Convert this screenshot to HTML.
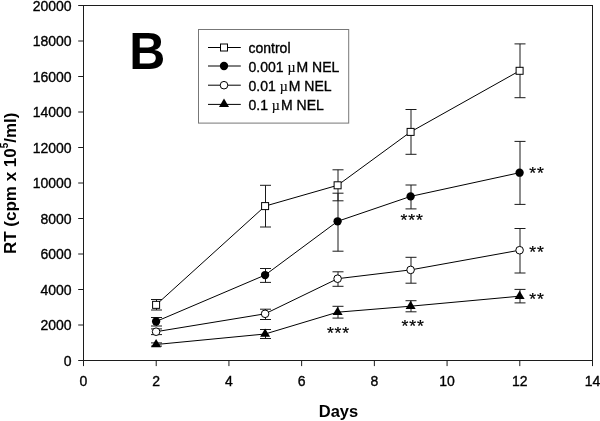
<!DOCTYPE html><html><head><meta charset="utf-8"><style>html,body{margin:0;padding:0;background:#fff;width:600px;height:421px;overflow:hidden}svg{display:block;will-change:transform}text{font-family:"Liberation Sans",sans-serif}</style></head><body>
<svg width="600" height="421" viewBox="0 0 600 421">
<rect x="83.5" y="5.5" width="509" height="355" fill="none" stroke="#1c1c1c" stroke-width="1"/>
<line x1="78.2" y1="360.50" x2="83.5" y2="360.50" stroke="#1c1c1c" stroke-width="1"/>
<text x="71.6" y="365.70" font-size="14" text-anchor="end" fill="#000" stroke="#000" stroke-width="0.35">0</text>
<line x1="78.2" y1="325.00" x2="83.5" y2="325.00" stroke="#1c1c1c" stroke-width="1"/>
<text x="71.6" y="330.20" font-size="14" text-anchor="end" fill="#000" stroke="#000" stroke-width="0.35">2000</text>
<line x1="78.2" y1="289.50" x2="83.5" y2="289.50" stroke="#1c1c1c" stroke-width="1"/>
<text x="71.6" y="294.70" font-size="14" text-anchor="end" fill="#000" stroke="#000" stroke-width="0.35">4000</text>
<line x1="78.2" y1="254.00" x2="83.5" y2="254.00" stroke="#1c1c1c" stroke-width="1"/>
<text x="71.6" y="259.20" font-size="14" text-anchor="end" fill="#000" stroke="#000" stroke-width="0.35">6000</text>
<line x1="78.2" y1="218.50" x2="83.5" y2="218.50" stroke="#1c1c1c" stroke-width="1"/>
<text x="71.6" y="223.70" font-size="14" text-anchor="end" fill="#000" stroke="#000" stroke-width="0.35">8000</text>
<line x1="78.2" y1="183.00" x2="83.5" y2="183.00" stroke="#1c1c1c" stroke-width="1"/>
<text x="71.6" y="188.20" font-size="14" text-anchor="end" fill="#000" stroke="#000" stroke-width="0.35">10000</text>
<line x1="78.2" y1="147.50" x2="83.5" y2="147.50" stroke="#1c1c1c" stroke-width="1"/>
<text x="71.6" y="152.70" font-size="14" text-anchor="end" fill="#000" stroke="#000" stroke-width="0.35">12000</text>
<line x1="78.2" y1="112.00" x2="83.5" y2="112.00" stroke="#1c1c1c" stroke-width="1"/>
<text x="71.6" y="117.20" font-size="14" text-anchor="end" fill="#000" stroke="#000" stroke-width="0.35">14000</text>
<line x1="78.2" y1="76.50" x2="83.5" y2="76.50" stroke="#1c1c1c" stroke-width="1"/>
<text x="71.6" y="81.70" font-size="14" text-anchor="end" fill="#000" stroke="#000" stroke-width="0.35">16000</text>
<line x1="78.2" y1="41.00" x2="83.5" y2="41.00" stroke="#1c1c1c" stroke-width="1"/>
<text x="71.6" y="46.20" font-size="14" text-anchor="end" fill="#000" stroke="#000" stroke-width="0.35">18000</text>
<line x1="78.2" y1="5.50" x2="83.5" y2="5.50" stroke="#1c1c1c" stroke-width="1"/>
<text x="71.6" y="10.70" font-size="14" text-anchor="end" fill="#000" stroke="#000" stroke-width="0.35">20000</text>
<line x1="83.50" y1="360.5" x2="83.50" y2="366.1" stroke="#1c1c1c" stroke-width="1"/>
<text x="83.50" y="385.9" font-size="14" text-anchor="middle" fill="#000" stroke="#000" stroke-width="0.35">0</text>
<line x1="156.21" y1="360.5" x2="156.21" y2="366.1" stroke="#1c1c1c" stroke-width="1"/>
<text x="156.21" y="385.9" font-size="14" text-anchor="middle" fill="#000" stroke="#000" stroke-width="0.35">2</text>
<line x1="228.93" y1="360.5" x2="228.93" y2="366.1" stroke="#1c1c1c" stroke-width="1"/>
<text x="228.93" y="385.9" font-size="14" text-anchor="middle" fill="#000" stroke="#000" stroke-width="0.35">4</text>
<line x1="301.64" y1="360.5" x2="301.64" y2="366.1" stroke="#1c1c1c" stroke-width="1"/>
<text x="301.64" y="385.9" font-size="14" text-anchor="middle" fill="#000" stroke="#000" stroke-width="0.35">6</text>
<line x1="374.36" y1="360.5" x2="374.36" y2="366.1" stroke="#1c1c1c" stroke-width="1"/>
<text x="374.36" y="385.9" font-size="14" text-anchor="middle" fill="#000" stroke="#000" stroke-width="0.35">8</text>
<line x1="447.07" y1="360.5" x2="447.07" y2="366.1" stroke="#1c1c1c" stroke-width="1"/>
<text x="447.07" y="385.9" font-size="14" text-anchor="middle" fill="#000" stroke="#000" stroke-width="0.35">10</text>
<line x1="519.79" y1="360.5" x2="519.79" y2="366.1" stroke="#1c1c1c" stroke-width="1"/>
<text x="519.79" y="385.9" font-size="14" text-anchor="middle" fill="#000" stroke="#000" stroke-width="0.35">12</text>
<line x1="592.50" y1="360.5" x2="592.50" y2="366.1" stroke="#1c1c1c" stroke-width="1"/>
<text x="592.50" y="385.9" font-size="14" text-anchor="middle" fill="#000" stroke="#000" stroke-width="0.35">14</text>
<text x="338.5" y="416.8" font-size="16.5" font-weight="bold" text-anchor="middle" fill="#000">Days</text>
<text transform="translate(16.3,183.3) rotate(-90)" font-size="17" font-weight="bold" text-anchor="middle" fill="#000">RT (cpm x 10<tspan font-size="10" dy="-8.8">5</tspan><tspan dy="8.8">/ml)</tspan></text>
<text transform="translate(129.2,69.2) scale(0.96,1)" font-size="52" font-weight="bold" fill="#000">B</text>
<line x1="156.50" y1="299.50" x2="156.50" y2="310.00" stroke="#1a1a1a" stroke-width="1"/>
<line x1="151.00" y1="299.50" x2="162.00" y2="299.50" stroke="#1a1a1a" stroke-width="1"/>
<line x1="151.00" y1="310.00" x2="162.00" y2="310.00" stroke="#1a1a1a" stroke-width="1"/>
<line x1="265.50" y1="185.30" x2="265.50" y2="227.00" stroke="#1a1a1a" stroke-width="1"/>
<line x1="260.00" y1="185.30" x2="271.00" y2="185.30" stroke="#1a1a1a" stroke-width="1"/>
<line x1="260.00" y1="227.00" x2="271.00" y2="227.00" stroke="#1a1a1a" stroke-width="1"/>
<line x1="338.00" y1="169.80" x2="338.00" y2="200.80" stroke="#1a1a1a" stroke-width="1"/>
<line x1="332.50" y1="169.80" x2="343.50" y2="169.80" stroke="#1a1a1a" stroke-width="1"/>
<line x1="332.50" y1="200.80" x2="343.50" y2="200.80" stroke="#1a1a1a" stroke-width="1"/>
<line x1="411.00" y1="109.50" x2="411.00" y2="154.30" stroke="#1a1a1a" stroke-width="1"/>
<line x1="405.50" y1="109.50" x2="416.50" y2="109.50" stroke="#1a1a1a" stroke-width="1"/>
<line x1="405.50" y1="154.30" x2="416.50" y2="154.30" stroke="#1a1a1a" stroke-width="1"/>
<line x1="520.00" y1="43.90" x2="520.00" y2="97.70" stroke="#1a1a1a" stroke-width="1"/>
<line x1="514.50" y1="43.90" x2="525.50" y2="43.90" stroke="#1a1a1a" stroke-width="1"/>
<line x1="514.50" y1="97.70" x2="525.50" y2="97.70" stroke="#1a1a1a" stroke-width="1"/>
<line x1="156.50" y1="317.50" x2="156.50" y2="326.00" stroke="#1a1a1a" stroke-width="1"/>
<line x1="151.00" y1="317.50" x2="162.00" y2="317.50" stroke="#1a1a1a" stroke-width="1"/>
<line x1="151.00" y1="326.00" x2="162.00" y2="326.00" stroke="#1a1a1a" stroke-width="1"/>
<line x1="265.50" y1="268.50" x2="265.50" y2="282.40" stroke="#1a1a1a" stroke-width="1"/>
<line x1="260.00" y1="268.50" x2="271.00" y2="268.50" stroke="#1a1a1a" stroke-width="1"/>
<line x1="260.00" y1="282.40" x2="271.00" y2="282.40" stroke="#1a1a1a" stroke-width="1"/>
<line x1="338.00" y1="193.20" x2="338.00" y2="251.20" stroke="#1a1a1a" stroke-width="1"/>
<line x1="332.50" y1="193.20" x2="343.50" y2="193.20" stroke="#1a1a1a" stroke-width="1"/>
<line x1="332.50" y1="251.20" x2="343.50" y2="251.20" stroke="#1a1a1a" stroke-width="1"/>
<line x1="411.00" y1="185.00" x2="411.00" y2="208.90" stroke="#1a1a1a" stroke-width="1"/>
<line x1="405.50" y1="185.00" x2="416.50" y2="185.00" stroke="#1a1a1a" stroke-width="1"/>
<line x1="405.50" y1="208.90" x2="416.50" y2="208.90" stroke="#1a1a1a" stroke-width="1"/>
<line x1="520.00" y1="141.40" x2="520.00" y2="204.40" stroke="#1a1a1a" stroke-width="1"/>
<line x1="514.50" y1="141.40" x2="525.50" y2="141.40" stroke="#1a1a1a" stroke-width="1"/>
<line x1="514.50" y1="204.40" x2="525.50" y2="204.40" stroke="#1a1a1a" stroke-width="1"/>
<line x1="156.50" y1="328.90" x2="156.50" y2="334.60" stroke="#1a1a1a" stroke-width="1"/>
<line x1="151.00" y1="328.90" x2="162.00" y2="328.90" stroke="#1a1a1a" stroke-width="1"/>
<line x1="151.00" y1="334.60" x2="162.00" y2="334.60" stroke="#1a1a1a" stroke-width="1"/>
<line x1="265.50" y1="309.20" x2="265.50" y2="319.50" stroke="#1a1a1a" stroke-width="1"/>
<line x1="260.00" y1="309.20" x2="271.00" y2="309.20" stroke="#1a1a1a" stroke-width="1"/>
<line x1="260.00" y1="319.50" x2="271.00" y2="319.50" stroke="#1a1a1a" stroke-width="1"/>
<line x1="338.00" y1="271.80" x2="338.00" y2="286.30" stroke="#1a1a1a" stroke-width="1"/>
<line x1="332.50" y1="271.80" x2="343.50" y2="271.80" stroke="#1a1a1a" stroke-width="1"/>
<line x1="332.50" y1="286.30" x2="343.50" y2="286.30" stroke="#1a1a1a" stroke-width="1"/>
<line x1="411.00" y1="257.30" x2="411.00" y2="283.20" stroke="#1a1a1a" stroke-width="1"/>
<line x1="405.50" y1="257.30" x2="416.50" y2="257.30" stroke="#1a1a1a" stroke-width="1"/>
<line x1="405.50" y1="283.20" x2="416.50" y2="283.20" stroke="#1a1a1a" stroke-width="1"/>
<line x1="520.00" y1="228.50" x2="520.00" y2="273.00" stroke="#1a1a1a" stroke-width="1"/>
<line x1="514.50" y1="228.50" x2="525.50" y2="228.50" stroke="#1a1a1a" stroke-width="1"/>
<line x1="514.50" y1="273.00" x2="525.50" y2="273.00" stroke="#1a1a1a" stroke-width="1"/>
<line x1="156.50" y1="342.90" x2="156.50" y2="346.10" stroke="#1a1a1a" stroke-width="1"/>
<line x1="151.00" y1="342.90" x2="162.00" y2="342.90" stroke="#1a1a1a" stroke-width="1"/>
<line x1="151.00" y1="346.10" x2="162.00" y2="346.10" stroke="#1a1a1a" stroke-width="1"/>
<line x1="265.50" y1="329.50" x2="265.50" y2="338.50" stroke="#1a1a1a" stroke-width="1"/>
<line x1="260.00" y1="329.50" x2="271.00" y2="329.50" stroke="#1a1a1a" stroke-width="1"/>
<line x1="260.00" y1="338.50" x2="271.00" y2="338.50" stroke="#1a1a1a" stroke-width="1"/>
<line x1="338.00" y1="306.30" x2="338.00" y2="318.10" stroke="#1a1a1a" stroke-width="1"/>
<line x1="332.50" y1="306.30" x2="343.50" y2="306.30" stroke="#1a1a1a" stroke-width="1"/>
<line x1="332.50" y1="318.10" x2="343.50" y2="318.10" stroke="#1a1a1a" stroke-width="1"/>
<line x1="411.00" y1="300.70" x2="411.00" y2="311.80" stroke="#1a1a1a" stroke-width="1"/>
<line x1="405.50" y1="300.70" x2="416.50" y2="300.70" stroke="#1a1a1a" stroke-width="1"/>
<line x1="405.50" y1="311.80" x2="416.50" y2="311.80" stroke="#1a1a1a" stroke-width="1"/>
<line x1="520.00" y1="289.40" x2="520.00" y2="302.90" stroke="#1a1a1a" stroke-width="1"/>
<line x1="514.50" y1="289.40" x2="525.50" y2="289.40" stroke="#1a1a1a" stroke-width="1"/>
<line x1="514.50" y1="302.90" x2="525.50" y2="302.90" stroke="#1a1a1a" stroke-width="1"/>
<polyline points="156.10,304.85 265.10,206.10 337.60,185.30 410.60,131.90 519.60,70.80" fill="none" stroke="#000" stroke-width="1"/>
<polyline points="156.10,321.50 265.10,275.05 337.60,221.30 410.60,196.40 519.60,172.70" fill="none" stroke="#000" stroke-width="1"/>
<polyline points="156.10,331.70 265.10,313.80 337.60,278.70 410.60,269.90 519.60,250.20" fill="none" stroke="#000" stroke-width="1"/>
<polyline points="156.10,344.50 265.10,334.00 337.60,312.20 410.60,306.20 519.60,296.20" fill="none" stroke="#000" stroke-width="1"/>
<rect x="152.60" y="301.35" width="7.0" height="7.0" fill="#fff" stroke="#000" stroke-width="1"/>
<rect x="261.60" y="202.60" width="7.0" height="7.0" fill="#fff" stroke="#000" stroke-width="1"/>
<rect x="334.10" y="181.80" width="7.0" height="7.0" fill="#fff" stroke="#000" stroke-width="1"/>
<rect x="407.10" y="128.40" width="7.0" height="7.0" fill="#fff" stroke="#000" stroke-width="1"/>
<rect x="516.10" y="67.30" width="7.0" height="7.0" fill="#fff" stroke="#000" stroke-width="1"/>
<circle cx="156.10" cy="321.50" r="4.15" fill="#000"/>
<circle cx="265.10" cy="275.05" r="4.15" fill="#000"/>
<circle cx="337.60" cy="221.30" r="4.15" fill="#000"/>
<circle cx="410.60" cy="196.40" r="4.15" fill="#000"/>
<circle cx="519.60" cy="172.70" r="4.15" fill="#000"/>
<circle cx="156.10" cy="331.70" r="3.8" fill="#fff" stroke="#000" stroke-width="1"/>
<circle cx="265.10" cy="313.80" r="3.8" fill="#fff" stroke="#000" stroke-width="1"/>
<circle cx="337.60" cy="278.70" r="3.8" fill="#fff" stroke="#000" stroke-width="1"/>
<circle cx="410.60" cy="269.90" r="3.8" fill="#fff" stroke="#000" stroke-width="1"/>
<circle cx="519.60" cy="250.20" r="3.8" fill="#fff" stroke="#000" stroke-width="1"/>
<path d="M156.10,339.00 L161.10,347.30 L151.10,347.30Z" fill="#000"/>
<path d="M265.10,328.50 L270.10,336.80 L260.10,336.80Z" fill="#000"/>
<path d="M337.60,306.70 L342.60,315.00 L332.60,315.00Z" fill="#000"/>
<path d="M410.60,300.70 L415.60,309.00 L405.60,309.00Z" fill="#000"/>
<path d="M519.60,290.70 L524.60,299.00 L514.60,299.00Z" fill="#000"/>
<text transform="translate(326.90,338.70) scale(0.88,0.83)" font-size="20" fill="#000" stroke="#000" stroke-width="0.3" letter-spacing="1.0">***</text>
<text transform="translate(400.60,226.10) scale(0.88,0.83)" font-size="20" fill="#000" stroke="#000" stroke-width="0.3" letter-spacing="1.0">***</text>
<text transform="translate(401.60,332.40) scale(0.88,0.83)" font-size="20" fill="#000" stroke="#000" stroke-width="0.3" letter-spacing="1.0">***</text>
<text transform="translate(529.20,179.10) scale(0.88,0.83)" font-size="20" fill="#000" stroke="#000" stroke-width="0.3" letter-spacing="1.0">**</text>
<text transform="translate(529.20,257.80) scale(0.88,0.83)" font-size="20" fill="#000" stroke="#000" stroke-width="0.3" letter-spacing="1.0">**</text>
<text transform="translate(529.20,304.80) scale(0.88,0.83)" font-size="20" fill="#000" stroke="#000" stroke-width="0.3" letter-spacing="1.0">**</text>
<rect x="198.5" y="29.5" width="150.2" height="93.6" fill="#fff" stroke="#777" stroke-width="1"/>
<line x1="208" y1="47.5" x2="240.8" y2="47.5" stroke="#000" stroke-width="1"/>
<rect x="220.50" y="44.00" width="7.0" height="7.0" fill="#fff" stroke="#000" stroke-width="1"/>
<text x="248.5" y="52.60" font-size="14" fill="#000" stroke="#000" stroke-width="0.35">control</text>
<line x1="208" y1="66.0" x2="240.8" y2="66.0" stroke="#000" stroke-width="1"/>
<circle cx="224.00" cy="66.00" r="4.15" fill="#000"/>
<text x="248.5" y="71.50" font-size="14" fill="#000" stroke="#000" stroke-width="0.35">0.001 <tspan font-family="Liberation Serif" stroke-width="0.15">µ</tspan><tspan dx="1.05">M NEL</tspan></text>
<line x1="208" y1="85.2" x2="240.8" y2="85.2" stroke="#000" stroke-width="1"/>
<circle cx="224.00" cy="85.20" r="3.8" fill="#fff" stroke="#000" stroke-width="1"/>
<text x="248.5" y="90.70" font-size="14" fill="#000" stroke="#000" stroke-width="0.35">0.01 <tspan font-family="Liberation Serif" stroke-width="0.15">µ</tspan><tspan dx="1.05">M NEL</tspan></text>
<line x1="208" y1="104.4" x2="240.8" y2="104.4" stroke="#000" stroke-width="1"/>
<path d="M224.00,98.60 L229.00,106.90 L219.00,106.90Z" fill="#000"/>
<text x="248.5" y="110.00" font-size="14" fill="#000" stroke="#000" stroke-width="0.35">0.1 <tspan font-family="Liberation Serif" stroke-width="0.15">µ</tspan><tspan dx="1.05">M NEL</tspan></text>
</svg></body></html>
